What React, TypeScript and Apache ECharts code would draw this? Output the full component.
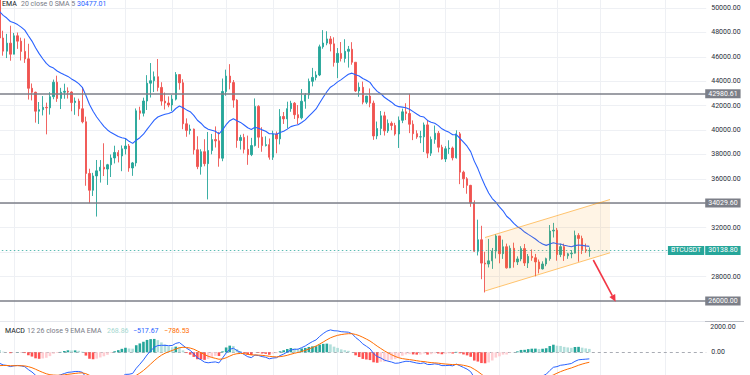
import React, { useEffect, useRef } from "react";
import * as echarts from "echarts";

// ---------- categories (daily bars, plus empty future days on the right) ----------
const dates: string[] = [
  "2021-12-28","2021-12-29","2021-12-30","2021-12-31",
  "2022-01-01","2022-01-02","2022-01-03","2022-01-04","2022-01-05","2022-01-06","2022-01-07","2022-01-08","2022-01-09","2022-01-10",
  "2022-01-11","2022-01-12","2022-01-13","2022-01-14","2022-01-15","2022-01-16","2022-01-17","2022-01-18","2022-01-19","2022-01-20",
  "2022-01-21","2022-01-22","2022-01-23","2022-01-24","2022-01-25","2022-01-26","2022-01-27","2022-01-28","2022-01-29","2022-01-30","2022-01-31",
  "2022-02-01","2022-02-02","2022-02-03","2022-02-04","2022-02-05","2022-02-06","2022-02-07","2022-02-08","2022-02-09","2022-02-10",
  "2022-02-11","2022-02-12","2022-02-13","2022-02-14","2022-02-15","2022-02-16","2022-02-17","2022-02-18","2022-02-19","2022-02-20",
  "2022-02-21","2022-02-22","2022-02-23","2022-02-24","2022-02-25","2022-02-26","2022-02-27","2022-02-28",
  "2022-03-01","2022-03-02","2022-03-03","2022-03-04","2022-03-05","2022-03-06","2022-03-07","2022-03-08","2022-03-09","2022-03-10",
  "2022-03-11","2022-03-12","2022-03-13","2022-03-14","2022-03-15","2022-03-16","2022-03-17","2022-03-18","2022-03-19","2022-03-20",
  "2022-03-21","2022-03-22","2022-03-23","2022-03-24","2022-03-25","2022-03-26","2022-03-27","2022-03-28","2022-03-29","2022-03-30","2022-03-31",
  "2022-04-01","2022-04-02","2022-04-03","2022-04-04","2022-04-05","2022-04-06","2022-04-07","2022-04-08","2022-04-09","2022-04-10",
  "2022-04-11","2022-04-12","2022-04-13","2022-04-14","2022-04-15","2022-04-16","2022-04-17","2022-04-18","2022-04-19","2022-04-20",
  "2022-04-21","2022-04-22","2022-04-23","2022-04-24","2022-04-25","2022-04-26","2022-04-27","2022-04-28","2022-04-29","2022-04-30",
  "2022-05-01","2022-05-02","2022-05-03","2022-05-04","2022-05-05","2022-05-06","2022-05-07","2022-05-08","2022-05-09","2022-05-10",
  "2022-05-11","2022-05-12","2022-05-13","2022-05-14","2022-05-15","2022-05-16","2022-05-17","2022-05-18","2022-05-19","2022-05-20",
  "2022-05-21","2022-05-22","2022-05-23","2022-05-24","2022-05-25","2022-05-26","2022-05-27","2022-05-28","2022-05-29","2022-05-30","2022-05-31",
  "2022-06-01","2022-06-02","2022-06-03","2022-06-04","2022-06-05","2022-06-06","2022-06-07","2022-06-08","2022-06-09","2022-06-10",
  "2022-06-11","2022-06-12","2022-06-13","2022-06-14","2022-06-15","2022-06-16","2022-06-17","2022-06-18","2022-06-19","2022-06-20",
  "2022-06-21","2022-06-22","2022-06-23","2022-06-24","2022-06-25","2022-06-26","2022-06-27","2022-06-28","2022-06-29","2022-06-30",
  "2022-07-01","2022-07-02","2022-07-03","2022-07-04","2022-07-05","2022-07-06","2022-07-07","2022-07-08","2022-07-09","2022-07-10","2022-07-11","2022-07-12",
];

// ---------- BTCUSDT daily OHLC ----------
const opens = [
  50701,47543,46464,47120,46216,47722,47286,46446,45833,43425,
  43097,41547,41672,41864,41822,42735,43920,42591,43099,43177,
  43113,42250,42375,41744,40680,36445,35071,36244,36660,36958,
  36809,37160,37716,38166,37881,38466,38694,36896,37311,41575,
  41382,42380,43840,44043,44372,43495,42373,42217,42053,42535,
  44544,43873,40515,39974,40079,38386,37008,38230,37250,38328,
  39219,39116,37700,43160,44421,43892,42454,39148,39397,38420,
  37988,38731,41941,39422,38730,38807,37778,39671,39281,41114,
  40917,41757,42201,41262,41002,42364,42882,43991,44313,44512,
  46820,47128,47465,47062,45538,46281,45868,46453,46622,45555,
  43206,43503,42287,42782,42207,39521,40127,41166,39936,40552,
  40378,39678,40801,41493,41358,40480,39709,39441,39450,40426,
  38112,39235,39742,38596,37630,38468,38525,37728,39690,36552,
  36013,35472,34038,30076,31017,29103,29029,29287,30086,31328,
  29874,30444,28715,30319,29201,29445,30293,29110,29655,29542,
  29201,28630,29031,29468,31734,31801,29800,30453,29700,29865,
  29920,31373,31125,30205,30110,
];
const closes = [
  47543,46464,47120,46216,47722,47286,46446,45833,43425,43097,
  41547,41672,41864,41822,42735,43920,42591,43099,43177,43113,
  42250,42375,41744,40680,36445,35071,36244,36660,36958,36809,
  37160,37716,38166,37881,38466,38694,36896,37311,41575,41382,
  42380,43840,44043,44372,43495,42373,42217,42053,42535,44544,
  43873,40515,39974,40079,38386,37008,38230,37250,38328,39219,
  39116,37700,43160,44421,43892,42454,39148,39397,38420,37988,
  38731,41941,39422,38730,38807,37778,39671,39281,41114,40917,
  41757,42201,41262,41002,42364,42882,43991,44313,44512,46820,
  47128,47465,47062,45538,46281,45868,46453,46622,45555,43206,
  43503,42287,42782,42207,39521,40127,41166,39936,40552,40378,
  39678,40801,41493,41358,40480,39709,39441,39450,40426,38112,
  39235,39742,38596,37630,38468,38525,37728,39690,36552,36013,
  35472,34038,30076,31017,29103,29029,29287,30086,31328,29874,
  30444,28715,30319,29201,29445,30293,29110,29655,29542,29201,
  28630,29031,29468,31734,31801,29800,30453,29700,29865,29920,
  31373,31125,30205,30110,30138.8,
];
const highs = [
  50704,48139,47879,48548,47954,47990,47570,47505,47070,43817,
  43145,42300,42786,42248,43100,44135,44456,43459,43800,43500,
  43180,42675,42574,43505,41100,36835,36499,37550,37545,38919,
  37234,38000,38720,38359,38744,39265,38855,37387,41772,41913,
  42656,44500,45492,44799,45821,43920,43079,42760,42876,44751,
  44549,44164,40959,40444,40125,39494,38429,39249,39843,39683,
  40300,39855,44225,44949,45400,44101,42527,39613,39693,39547,
  39362,42594,42039,40236,39486,39310,39947,39887,41718,41478,
  42325,42400,42296,42048,43361,43025,44220,45094,44820,46999,
  48189,48096,47700,47600,46720,47213,47444,46890,47200,45555,
  43900,43970,42800,43410,42414,40699,41561,41500,40870,40709,
  40595,41116,41760,42199,42976,40795,39980,39940,40616,40797,
  39474,40372,39925,38795,38675,39167,38651,39980,39845,36675,
  36146,35514,34243,32659,32162,30032,31083,30343,31460,31328,
  31025,30700,30545,30777,29656,30487,30670,29850,30223,29856,
  29397,29250,29550,32222,32399,31982,30688,30700,29950,30175,
  31765,31556,31350,30700,30392,
];
const lows = [
  47313,46096,45900,45678,46208,46654,45696,45502,42500,42430,
  40610,40501,41200,39650,41268,42528,42311,41725,42566,42581,
  41540,41250,41138,40553,35440,34008,34601,32917,35701,36234,
  35507,36155,37268,37351,36632,38000,36586,36250,37030,40844,
  41116,41645,42667,43117,43174,42000,41688,41870,41570,42428,
  43307,40073,39450,39639,38000,36800,36350,37036,34322,38014,
  38573,37000,37450,42809,43334,41832,38550,38407,38088,37155,
  37867,38656,38539,38223,38660,37578,37555,38098,38828,40500,
  40135,41499,40911,40467,40875,41751,42560,43579,44072,44421,
  46663,46950,46445,45200,44255,45620,45530,45118,45353,43121,
  42727,42107,42125,41868,39200,39254,39588,39551,39766,39991,
  39546,38536,40571,40820,39751,39177,39285,38929,38200,37702,
  37881,38881,38175,37578,37386,38052,37517,37670,35571,35258,
  34785,33713,30033,29730,27785,26700,28751,28630,29480,29087,
  29450,28654,28691,28730,28947,29255,28866,28701,29294,28019,
  28261,28577,28850,29300,31200,29301,29594,29282,29454,29500,
  29891,29218,29843,29944,29621,
];

// ---------- EMA 20 ----------
const ema20 = [
  49703,49394,49178,48896,48784,48641,48432,48185,47731,47290,
  46743,46260,45841,45458,45199,45077,44840,44674,44532,44397,
  44192,44019,43803,43505,42833,42093,41536,41072,40680,40311,
  40011,39793,39638,39470,39375,39310,39080,38911,39165,39376,
  39662,40060,40439,40814,41069,41193,41291,41363,41475,41767,
  41968,41830,41653,41503,41206,40806,40561,40246,40063,39983,
  39900,39691,40021,40440,40769,40930,40760,40630,40420,40188,
  40049,40229,40152,40017,39902,39700,39697,39657,39796,39903,
  40080,40282,40375,40435,40619,40834,41135,41438,41731,42216,
  42684,43139,43513,43706,43951,44134,44355,44571,44665,44526,
  44429,44225,44088,43909,43491,43171,42980,42690,42486,42285,
  42037,41919,41878,41829,41700,41511,41314,41136,41068,40787,
  40639,40554,40367,40106,39950,39815,39616,39623,39330,39014,
  38677,38235,37458,36845,36107,35433,34848,34394,34102,33700,
  33390,32944,32694,32362,32084,31913,31646,31457,31274,31077,
  30844,30671,30557,30669,30777,30684,30662,30570,30503,30448,
  30536,30592,30555,30513,30477.01,
];

// ---------- MACD 12 26 9 ----------
const macdLine = [
  -869,-999,-1038,-1128,-1066,-1040,-1074,-1138,-1367,-1557,
  -1812,-1981,-2075,-2129,-2074,-1913,-1871,-1776,-1676,-1583,
  -1561,-1516,-1514,-1579,-1950,-2329,-2506,-2582,-2589,-2577,
  -2510,-2384,-2222,-2093,-1921,-1747,-1734,-1671,-1262,-943,
  -602,-212,112,391,535,553,548,524,538,704,
  771,547,322,151,-120,-440,-589,-777,-829,-789,
  -758,-838,-455,-50,227,327,137,7,-174,-348,
  -421,-217,-256,-339,-394,-514,-452,-429,-260,-140,
  22,185,235,251,369,499,683,846,979,1256,
  1484,1672,1769,1703,1691,1630,1610,1589,1470,1173,
  949,667,478,278,-95,-339,-443,-618,-699,-768,
  -869,-849,-769,-708,-722,-786,-849,-888,-831,-961,
  -963,-912,-953,-1052,-1050,-1032,-1070,-931,-1062,-1195,
  -1329,-1533,-1992,-2254,-2586,-2822,-2955,-2962,-2835,-2818,
  -2728,-2764,-2632,-2589,-2505,-2344,-2285,-2170,-2064,-1984,
  -1945,-1860,-1737,-1440,-1185,-1132,-1025,-990,-939,-884,
  -714,-593,-565,-544,-517.67,
];
const signalLine = [
  -1054,-1043,-1042,-1059,-1060,-1056,-1060,-1076,-1134,-1219,
  -1338,-1467,-1589,-1697,-1772,-1800,-1814,-1806,-1780,-1741,
  -1705,-1667,-1636,-1625,-1690,-1818,-1956,-2081,-2183,-2262,
  -2312,-2326,-2305,-2263,-2195,-2105,-2031,-1959,-1820,-1645,
  -1436,-1191,-930,-666,-426,-230,-74,46,144,256,
  359,397,382,336,245,108,-31,-180,-310,-406,
  -476,-548,-529,-433,-301,-175,-113,-89,-106,-154,
  -207,-209,-218,-242,-272,-320,-346,-363,-342,-302,
  -237,-153,-75,-10,66,153,259,376,497,649,
  816,987,1143,1255,1342,1400,1442,1471,1471,1411,
  1319,1189,1047,893,695,488,302,118,-45,-190,
  -326,-431,-499,-541,-577,-619,-665,-710,-734,-779,
  -816,-835,-859,-898,-928,-949,-973,-965,-984,-1026,
  -1087,-1176,-1339,-1522,-1735,-1952,-2153,-2315,-2419,-2499,
  -2545,-2589,-2598,-2596,-2578,-2531,-2482,-2420,-2349,-2276,
  -2210,-2140,-2059,-1935,-1785,-1654,-1528,-1420,-1324,-1236,
  -1132,-1024,-932,-854,-786.53,
];
const macdHist = [
  185,44,4,-69,-6,16,-14,-62,-233,-338,
  -474,-514,-486,-432,-302,-113,-57,30,104,158,
  144,151,122,46,-260,-511,-550,-501,-406,-315,
  -198,-58,83,170,274,358,297,288,558,702,
  834,979,1042,1057,961,783,622,478,394,448,
  412,150,-60,-185,-365,-548,-558,-597,-519,-383,
  -282,-290,74,383,528,502,250,96,-68,-194,
  -214,-8,-38,-97,-122,-194,-106,-66,82,162,
  259,338,310,261,303,346,424,470,482,607,
  668,685,626,448,349,230,168,118,-1,-238,
  -370,-522,-569,-615,-790,-827,-745,-736,-654,-578,
  -543,-418,-270,-167,-145,-167,-184,-178,-97,-182,
  -147,-77,-94,-154,-122,-83,-97,34,-78,-169,
  -242,-357,-653,-732,-851,-870,-802,-647,-416,-319,
  -183,-175,-34,7,73,187,197,250,285,292,
  265,280,322,495,600,522,503,430,385,352,
  418,431,367,310,268.86,
];

// ---------- axes / annotations ----------
const gridDates = [
  "2022-01-01","2022-01-17","2022-02-01","2022-02-14","2022-03-01","2022-03-14","2022-04-01",
  "2022-04-18","2022-05-01","2022-05-16","2022-06-01","2022-06-13","2022-07-01",
];
const priceGridLevels = [28000, 30000, 32000, 34000, 36000, 38000, 40000, 42000, 44000, 46000, 48000, 50000];
const priceAxisLabels = [28000, 32000, 36000, 38000, 40000, 42000, 44000, 46000, 48000, 50000];
const keyLevels = [42980.61, 34029.6, 26000];
const lastPrice = 30138.8;
const symbolName = "BTCUSDT";
const macdAxisLabels = [2000, 0];
// channel & arrow anchors: [bar index, price]
const channelUpper = [[134.98, 31201], [169.75, 34314]];
const channelLower = [[134.98, 26819], [169.75, 29948]];
const arrowPath = [[165.1, 29358], [171.3, 25943]];

const FONT = "Roboto, 'Noto Sans', sans-serif";
const UP = "#26a69a";
const DOWN = "#ef5350";
const GRID = "#eef0f4";
const LEVEL = "#7c7f88";

function histColor(i: number): string {
  const v = macdHist[i];
  const prev = i > 0 ? macdHist[i - 1] : v;
  if (v >= 0) return v > prev ? "#26a69a" : "#b2dfdb";
  return v < prev ? "#ff5252" : "#ffcdd2";
}

function buildOption(): any {
  const n = closes.length;
  const bandW = 3.596;
  const gridLeft = -2.2;
  const gridWidth = dates.length * bandW;

  const candleData = closes.map((c, i) => [opens[i], c, lows[i], highs[i]]);

  const vGrid = gridDates.map((d) => ({
    xAxis: d,
    lineStyle: { color: GRID, width: 1, type: "solid" },
    label: { show: false },
  }));
  const hGrid = priceGridLevels.map((v) => ({
    yAxis: v,
    lineStyle: { color: GRID, width: 1, type: "solid" },
    label: priceAxisLabels.includes(v)
      ? { show: true, position: "end", distance: 5, formatter: v.toFixed(2), color: "#2a2e39", fontSize: 7, fontFamily: FONT }
      : { show: false },
  }));
  const levelLines = keyLevels.map((v) => ({
    yAxis: v,
    lineStyle: { color: LEVEL, width: 1.6, type: "solid" },
    label: {
      show: true, position: "end", distance: -1, formatter: v.toFixed(2),
      color: "#ffffff", backgroundColor: LEVEL, padding: [1.5, 3, 0.5, 3], fontSize: 7, fontFamily: FONT,
    },
  }));
  const lastLine = {
    yAxis: lastPrice,
    lineStyle: { color: "rgba(38,166,154,0.75)", width: 1, type: [1.5, 2.5] },
    label: {
      show: true, position: "end", distance: -1, formatter: lastPrice.toFixed(2),
      color: "#ffffff", backgroundColor: UP, padding: [1.5, 3, 0.5, 3], fontSize: 7, fontFamily: FONT,
    },
  };
  const macdMarks = [
    ...gridDates.map((d) => ({ xAxis: d, lineStyle: { color: GRID, width: 1, type: "solid" }, label: { show: false } })),
    ...macdAxisLabels.map((v) => ({
      yAxis: v,
      lineStyle: v === 0 ? { color: "#a9acb4", width: 1, type: [3, 3] } : { color: "rgba(255,255,255,0)", width: 1, type: "solid" },
      label: { show: true, position: "end", distance: v === 0 ? 5 : 4, formatter: v.toFixed(2), color: "#2a2e39", fontSize: 7, fontFamily: FONT, opacity: 1 },
    })),
  ];

  const legendFont = `7px ${FONT}`;

  return {
    animation: false,
    backgroundColor: "#ffffff",
    grid: [
      { left: gridLeft, top: 0, width: gridWidth, height: 321, containLabel: false, outerBoundsMode: "none" },
      { left: gridLeft, top: 321, width: gridWidth, height: 54, containLabel: false, outerBoundsMode: "none" },
    ],
    xAxis: [
      { type: "category", gridIndex: 0, data: dates, show: false, boundaryGap: true },
      { type: "value", gridIndex: 0, min: -0.5, max: dates.length - 0.5, show: false },
      { type: "category", gridIndex: 1, data: dates, show: false, boundaryGap: true },
    ],
    yAxis: [
      { type: "value", gridIndex: 0, min: 24361.4, max: 50655.3, show: false },
      { type: "value", gridIndex: 1, min: -1794, max: 2474, show: false },
    ],
    graphic: [
      { type: "line", z: 10, shape: { x1: 0, y1: 321.5, x2: 705, y2: 321.5 }, style: { stroke: "#e6e8ee", lineWidth: 1 } },
      { type: "line", z: 10, shape: { x1: 705, y1: 321.5, x2: 744, y2: 321.5 }, style: { stroke: "#b8bbc3", lineWidth: 1 } },
      { type: "text", z: 10, x: 2, y: 4, style: { text: "EMA", fill: "#131722", font: legendFont, verticalAlign: "middle" } },
      { type: "text", z: 10, x: 21, y: 4, style: { text: "20 close 0 SMA 5", fill: "#787b86", font: legendFont, verticalAlign: "middle" } },
      { type: "text", z: 10, x: 77, y: 4, style: { text: ema20[n - 1].toFixed(2), fill: "#2962ff", font: legendFont, verticalAlign: "middle" } },
      { type: "text", z: 10, x: 5, y: 331, style: { text: "MACD", fill: "#131722", font: legendFont, verticalAlign: "middle" } },
      { type: "text", z: 10, x: 27, y: 331, style: { text: "12 26 close 9 EMA EMA", fill: "#787b86", font: legendFont, verticalAlign: "middle" } },
      { type: "text", z: 10, x: 107, y: 331, style: { text: macdHist[n - 1].toFixed(2), fill: "#a6d8d1", font: legendFont, verticalAlign: "middle" } },
      { type: "text", z: 10, x: 133, y: 331, style: { text: "\u2212" + Math.abs(macdLine[n - 1]).toFixed(2), fill: "#2962ff", font: legendFont, verticalAlign: "middle" } },
      { type: "text", z: 10, x: 164, y: 331, style: { text: "\u2212" + Math.abs(signalLine[n - 1]).toFixed(2), fill: "#ff6d00", font: legendFont, verticalAlign: "middle" } },
    ],
    series: [
      {
        name: "grid",
        type: "line",
        xAxisIndex: 0,
        yAxisIndex: 0,
        data: [],
        silent: true,
        clip: false,
        z: 0,
        markLine: { symbol: "none", silent: true, animation: false, z: 1, data: [...vGrid, ...hGrid] },
      },
      {
        name: "BTCUSDT",
        type: "candlestick",
        xAxisIndex: 0,
        yAxisIndex: 0,
        data: candleData,
        barWidth: 1.9,
        z: 2,
        itemStyle: { color: UP, color0: DOWN, borderColor: UP, borderColor0: DOWN, borderWidth: 0.9 },
      },
      {
        name: "EMA 20",
        type: "line",
        xAxisIndex: 0,
        yAxisIndex: 0,
        data: ema20,
        symbol: "none",
        z: 3,
        lineStyle: { color: "#2962ff", width: 1.1 },
        markLine: { symbol: "none", silent: true, animation: false, z: 4, data: [lastLine, ...levelLines] },
      },
      {
        name: "drawings",
        type: "custom",
        xAxisIndex: 1,
        yAxisIndex: 0,
        data: [[0, lastPrice]],
        clip: false,
        silent: true,
        z: 6,
        renderItem: (params: any, api: any) => {
          const cs = params.coordSys;
          const u0 = api.coord(channelUpper[0]);
          const u1 = api.coord(channelUpper[1]);
          const l0 = api.coord(channelLower[0]);
          const l1 = api.coord(channelLower[1]);
          const a0 = api.coord(arrowPath[0]);
          const a1 = api.coord(arrowPath[1]);
          const ang = Math.atan2(a1[1] - a0[1], a1[0] - a0[0]);
          const hl = 7;
          const hw = 3.3;
          const bx = a1[0] - hl * Math.cos(ang);
          const by = a1[1] - hl * Math.sin(ang);
          const left = [bx + hw * Math.sin(ang), by - hw * Math.cos(ang)];
          const right = [bx - hw * Math.sin(ang), by + hw * Math.cos(ang)];
          const yLast = api.coord([0, lastPrice])[1];
          const chStroke = { stroke: "rgba(255,152,0,0.55)", lineWidth: 1 };
          return {
            type: "group",
            children: [
              { type: "polygon", shape: { points: [u0, u1, l1, l0] }, style: { fill: "rgba(255,152,0,0.1)" } },
              { type: "line", shape: { x1: u0[0], y1: u0[1], x2: u1[0], y2: u1[1] }, style: chStroke },
              { type: "line", shape: { x1: l0[0], y1: l0[1], x2: l1[0], y2: l1[1] }, style: chStroke },
              { type: "line", shape: { x1: a0[0], y1: a0[1], x2: bx, y2: by }, style: { stroke: "#f23645", lineWidth: 1.6 } },
              { type: "polygon", shape: { points: [a1, left, right] }, style: { fill: "#f23645" } },
              {
                type: "text",
                x: cs.x + cs.width - 2,
                y: yLast,
                style: {
                  text: symbolName, fill: "#ffffff", font: `7px ${FONT}`, align: "right", verticalAlign: "middle",
                  backgroundColor: UP, padding: [1.5, 3, 0.5, 3],
                },
              },
            ],
          };
        },
      },
      {
        name: "macdGrid",
        type: "line",
        xAxisIndex: 2,
        yAxisIndex: 1,
        data: [],
        silent: true,
        clip: false,
        z: 0,
        markLine: { symbol: "none", silent: true, animation: false, z: 1, data: macdMarks },
      },
      {
        name: "Histogram",
        type: "bar",
        xAxisIndex: 2,
        yAxisIndex: 1,
        barWidth: 2.6,
        z: 2,
        data: macdHist.map((v, i) => ({ value: v, itemStyle: { color: histColor(i) } })),
      },
      {
        name: "MACD",
        type: "line",
        xAxisIndex: 2,
        yAxisIndex: 1,
        data: macdLine,
        symbol: "none",
        z: 3,
        lineStyle: { color: "#2962ff", width: 1 },
      },
      {
        name: "Signal",
        type: "line",
        xAxisIndex: 2,
        yAxisIndex: 1,
        data: signalLine,
        symbol: "none",
        z: 3,
        lineStyle: { color: "#ff6d00", width: 1 },
      },
    ],
  };
}

export default function App() {
  const ref = useRef<HTMLDivElement>(null);
  useEffect(() => {
    if (!ref.current) return;
    const chart = echarts.init(ref.current, null, { renderer: "svg" });
    chart.setOption(buildOption());
    return () => chart.dispose();
  }, []);
  return (
    <div
      ref={ref}
      style={{ position: "fixed", left: 0, top: 0, width: 750, height: 375, background: "#ffffff", overflow: "hidden" }}
    />
  );
}
